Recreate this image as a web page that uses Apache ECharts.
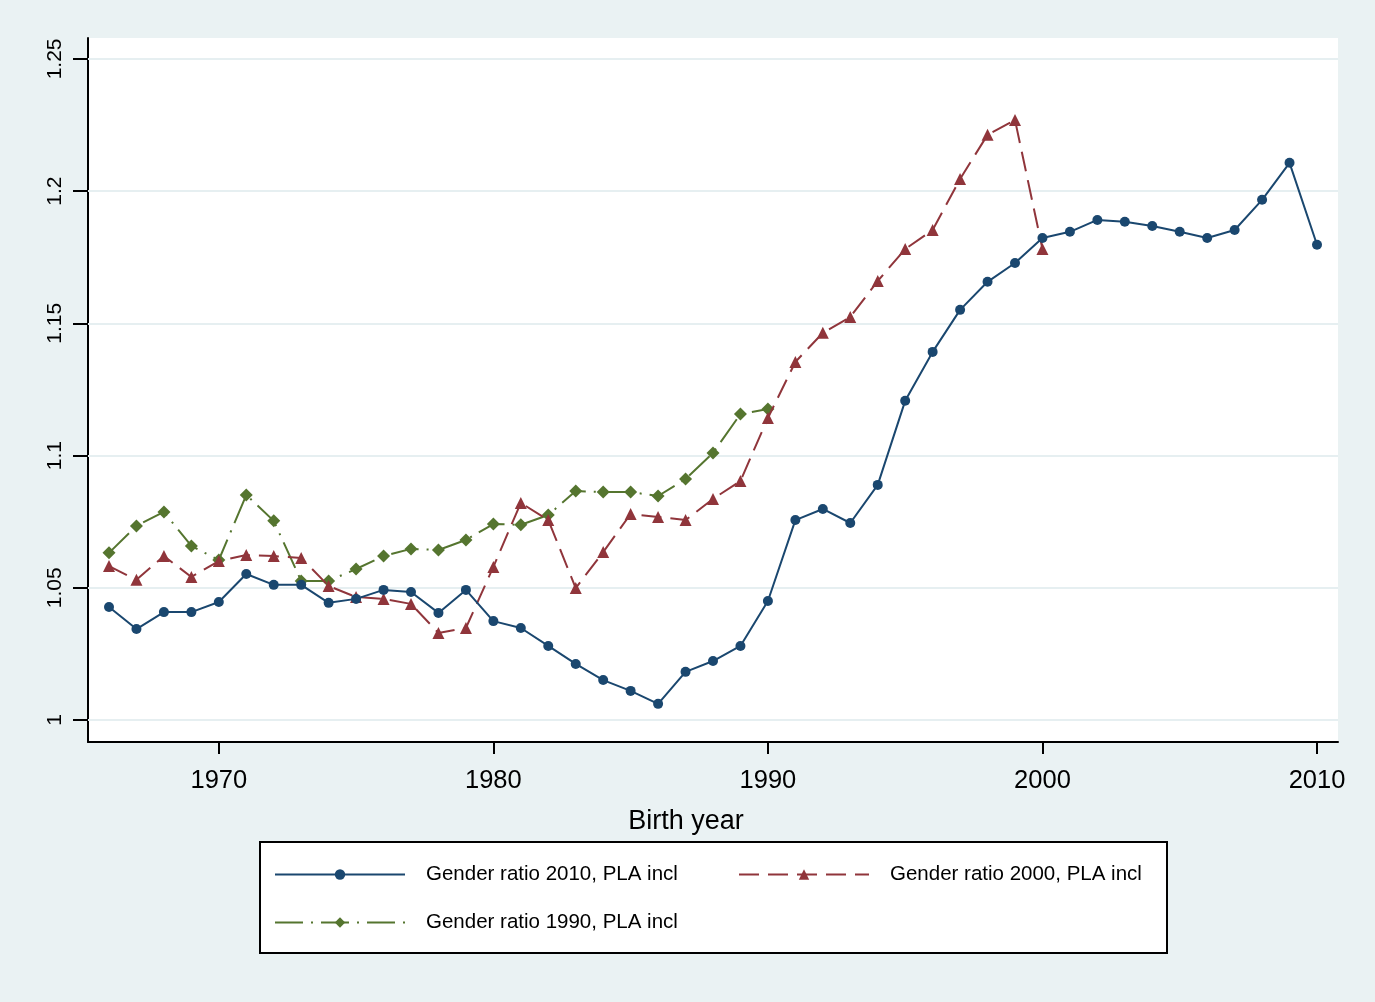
<!DOCTYPE html>
<html>
<head>
<meta charset="utf-8">
<script src="https://cdn.jsdelivr.net/npm/echarts@6/dist/echarts.min.js"></script>
<style>
html,body{margin:0;padding:0;background:#EAF2F3;}
#chart{width:1375px;height:1002px;}
</style>
</head>
<body>
<div id="chart"></div>
<script>
const years2010 = [1966,1967,1968,1969,1970,1971,1972,1973,1974,1975,1976,1977,1978,1979,1980,1981,1982,1983,1984,1985,1986,1987,1988,1989,1990,1991,1992,1993,1994,1995,1996,1997,1998,1999,2000,2001,2002,2003,2004,2005,2006,2007,2008,2009,2010];
const ratio2010 = [1.0427,1.0344,1.0408,1.0408,1.0446,1.0552,1.0511,1.0511,1.0443,1.0458,1.0492,1.0484,1.0405,1.0492,1.0374,1.0348,1.0280,1.0212,1.0151,1.0110,1.0061,1.0182,1.0223,1.0280,1.0450,1.0756,1.0798,1.0745,1.0889,1.1207,1.1392,1.1551,1.1657,1.1728,1.1823,1.1846,1.1891,1.1884,1.1868,1.1846,1.1823,1.1853,1.1967,1.2107,1.1797];
const years2000 = [1966,1967,1968,1969,1970,1971,1972,1973,1974,1975,1976,1977,1978,1979,1980,1981,1982,1983,1984,1985,1986,1987,1988,1989,1990,1991,1992,1993,1994,1995,1996,1997,1998,1999,2000];
const ratio2000 = [1.0582,1.0530,1.0620,1.0541,1.0601,1.0624,1.0620,1.0613,1.0507,1.0465,1.0458,1.0439,1.0329,1.0348,1.0579,1.0821,1.0756,1.0499,1.0635,1.0779,1.0768,1.0756,1.0836,1.0904,1.1142,1.1354,1.1464,1.1524,1.1660,1.1781,1.1853,1.2046,1.2213,1.2269,1.1781];
const years1990 = [1966,1967,1968,1969,1970,1971,1972,1973,1974,1975,1976,1977,1978,1979,1980,1981,1982,1983,1984,1985,1986,1987,1988,1989,1990];
const ratio1990 = [1.0632,1.0734,1.0787,1.0658,1.0605,1.0851,1.0753,1.0526,1.0526,1.0571,1.0620,1.0647,1.0643,1.0681,1.0741,1.0738,1.0775,1.0866,1.0862,1.0862,1.0847,1.0911,1.1010,1.1157,1.1176];
const xTicks = [1970,1980,1990,2000,2010];
const yTicks = [1,1.05,1.1,1.15,1.2,1.25];
const seriesNames = ['Gender ratio 2010, PLA incl','Gender ratio 2000, PLA incl','Gender ratio 1990, PLA incl'];
const axisTitle = 'Birth year';

const FONT = "'Liberation Sans', Arial, sans-serif";
const pairs = (xs, ys) => xs.map((x, i) => [x, ys[i]]);
const chart = echarts.init(document.getElementById('chart'));
const legendBase = {
  padding: 0, itemWidth: 130, itemHeight: 13, itemGap: 0,
  textStyle: {fontFamily: FONT, fontSize: 20.5, color: '#000', padding: [0,0,0,16]}
};
chart.setOption({
  backgroundColor: '#EAF2F3',
  animation: false,
  grid: {left: 88, right: 37, top: 38, bottom: 260, show: true, backgroundColor: '#ffffff', borderWidth: 0},
  xAxis: {
    type: 'value', min: 1965.235, max: 2010.765,
    axisLine: {show: true, onZero: false, lineStyle: {color: '#000', width: 2}},
    axisTick: {show: true, customValues: xTicks, length: 12, lineStyle: {color: '#000', width: 2}},
    axisLabel: {customValues: xTicks, fontFamily: FONT, fontSize: 25.5, color: '#000', margin: 26,
      formatter: v => String(Math.round(v))},
    splitLine: {show: false}
  },
  yAxis: {
    type: 'value', min: 0.99168, max: 1.2579,
    axisLine: {show: true, onZero: false, lineStyle: {color: '#000', width: 2}},
    axisTick: {show: true, customValues: yTicks, length: 15, lineStyle: {color: '#000', width: 2}},
    axisLabel: {customValues: yTicks, rotate: 90, fontFamily: FONT, fontSize: 21, color: '#000', margin: 22,
      formatter: v => String(+(+v).toFixed(2))},
    splitLine: {show: false}
  },
  legend: [
    Object.assign({data: [seriesNames[0]], left: 274, top: 864}, legendBase),
    Object.assign({data: [seriesNames[1]], left: 738, top: 864}, legendBase),
    Object.assign({data: [seriesNames[2]], left: 274, top: 912}, legendBase)
  ],
  graphic: [
    {type: 'rect', shape: {x: 260, y: 842, width: 907, height: 111}, style: {fill: '#fff', stroke: '#000', lineWidth: 2}, z: -1, silent: true},
    {type: 'text', x: 686, y: 822, style: {text: axisTitle, font: "27px 'Liberation Sans', Arial, sans-serif", fill: '#000', textAlign: 'center', textVerticalAlign: 'middle'}, silent: true}
  ],
  series: [
    {
      name: 'gridlines', type: 'line', data: [], z: 1, silent: true,
      markLine: {silent: true, symbol: 'none', z: 1, label: {show: false},
        lineStyle: {color: '#E6EFF1', width: 2, type: 'solid'},
        data: yTicks.map(v => ({yAxis: v}))}
    },
    {
      name: seriesNames[2], type: 'line', z: 3, data: pairs(years1990, ratio1990),
      symbol: 'diamond', symbolSize: 13, color: '#55752F',
      lineStyle: {color: '#55752F', width: 2, type: [28, 8, 2, 8]},
      itemStyle: {color: '#55752F'}
    },
    {
      name: seriesNames[1], type: 'line', z: 4, data: pairs(years2000, ratio2000),
      symbol: 'triangle', symbolSize: 12, color: '#90353B',
      lineStyle: {color: '#90353B', width: 2, type: [20, 9]},
      itemStyle: {color: '#90353B'}
    },
    {
      name: seriesNames[0], type: 'line', z: 5, data: pairs(years2010, ratio2010),
      symbol: 'circle', symbolSize: 10, color: '#1A476F',
      lineStyle: {color: '#1A476F', width: 2, type: 'solid'},
      itemStyle: {color: '#1A476F'}
    }
  ]
});
</script>
</body>
</html>
